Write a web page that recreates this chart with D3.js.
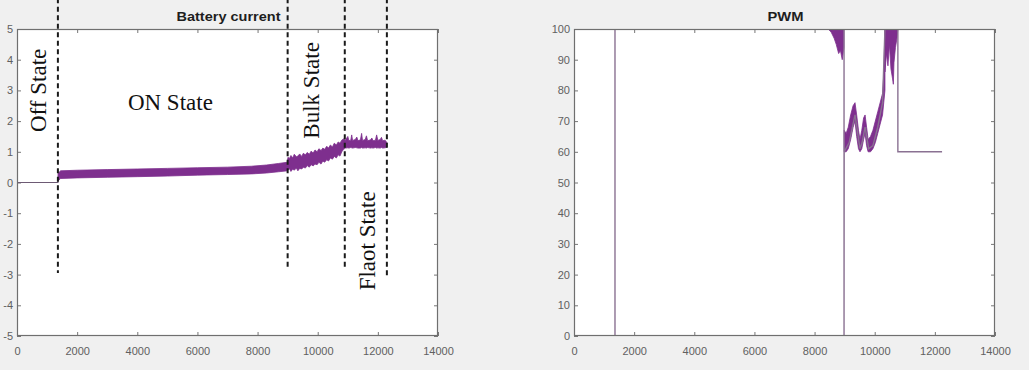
<!DOCTYPE html>
<html>
<head>
<meta charset="utf-8">
<script src="https://cdn.jsdelivr.net/npm/d3@7"></script>
<style>
  html, body { margin: 0; padding: 0; background: #f0f0f0; }
  svg { display: block; }
  .tick text { font-family: "Liberation Sans", Arial, sans-serif; font-size: 11px; fill: #606060; }
</style>
</head>
<body>
<svg id="chart" width="1029" height="370"></svg>
<script>
// ---------- Data ----------
const xTicks = [0, 2000, 4000, 6000, 8000, 10000, 12000, 14000];
const currentTicks = [-5, -4, -3, -2, -1, 0, 1, 2, 3, 4, 5];
const pwmTicks = [0, 10, 20, 30, 40, 50, 60, 70, 80, 90, 100];

// Battery current: off segment
const currentOffT = [0, 1362, 1365];
const currentOffV = [0, 0, 0.18];
// Battery current: noisy band (lower / upper envelope)
const currentT  = [1365, 1450, 2000, 3000, 4000, 5000, 6000, 7000, 7800, 8300, 8700, 8990,
                   9010, 9060, 9110, 9170, 9220, 9290, 9340, 9400, 9470, 9520, 9590, 9650, 9720, 9780, 9850, 9910,
                   9980, 10040, 10110, 10170, 10230, 10300, 10360, 10420, 10490, 10550, 10620, 10680, 10740, 10800, 10860,
                   10920, 11000, 11040, 11100, 11130, 11160, 11250, 11300, 11340, 11420, 11460, 11490, 11580, 11620,
                   11660, 11760, 11800, 11840, 11920, 11960, 12000, 12080, 12120, 12160, 12240, 12300];
const currentLo = [0.05, 0.13, 0.15, 0.17, 0.19, 0.21, 0.24, 0.26, 0.28, 0.31, 0.35, 0.38,
                   0.40, 0.45, 0.36, 0.44, 0.40, 0.47, 0.38, 0.46, 0.44, 0.50, 0.47, 0.55, 0.50, 0.58, 0.54, 0.60,
                   0.58, 0.66, 0.60, 0.70, 0.66, 0.74, 0.70, 0.80, 0.76, 0.85, 0.80, 0.90, 0.86, 1.00, 1.08,
                   1.12, 1.13, 1.12, 1.14, 1.13, 1.12, 1.14, 1.13, 1.12, 1.12, 1.14, 1.12, 1.13, 1.12,
                   1.14, 1.12, 1.13, 1.12, 1.14, 1.12, 1.13, 1.12, 1.14, 1.12, 1.13, 1.15];
const currentHi = [0.30, 0.38, 0.40, 0.42, 0.44, 0.46, 0.48, 0.50, 0.53, 0.57, 0.62, 0.66,
                   0.82, 0.78, 0.88, 0.80, 0.92, 0.84, 0.86, 0.93, 0.85, 0.95, 0.90, 0.98, 0.92, 1.02, 0.96, 1.06,
                   1.00, 1.10, 1.04, 1.12, 1.08, 1.18, 1.12, 1.22, 1.16, 1.28, 1.22, 1.32, 1.28, 1.38, 1.42,
                   1.38, 1.50, 1.36, 1.38, 1.55, 1.37, 1.40, 1.48, 1.36, 1.39, 1.60, 1.37, 1.40, 1.52,
                   1.36, 1.39, 1.45, 1.36, 1.38, 1.55, 1.37, 1.40, 1.47, 1.36, 1.38, 1.30];

// State boundaries (dashed lines) and labels
const stateLineX   = [1360, 9000, 10900, 12300];
const stateLineTop = [6.0, 6.0, 6.0, 6.0];
const stateLineBot = [-2.95, -2.85, -2.85, -3.05];
const stateLabels  = ["Off State", "ON State", "Bulk State", "Flaot State"];
const stateLabelX  = [700, 5100, 9800, 11650];
const stateLabelY  = [3.0, 2.6, 3.0, -1.9];
const stateLabelRot = [-90, 0, -90, -90];

// PWM main trace
const pwmT = [0, 1363, 1363, 8980, 8980, 8985, 9150, 9345, 9510, 9580, 9680, 9800, 9940, 10100, 10260, 10340, 10770, 10770, 12240];
const pwmV = [0, 0, 100, 100, 0, 60, 63, 72, 61, 63, 68, 61, 62, 68, 76, 100, 100, 60, 60];
// PWM noisy envelopes
const pwmBand1T  = [8450, 8550, 8650, 8720, 8800, 8860, 8920, 8975];
const pwmBand1Lo = [100, 99, 97, 95, 92, 93, 90, 94];
const pwmBand1Hi = [100, 100, 100, 100, 100, 100, 100, 100];
const pwmBand2T  = [8985, 9050, 9120, 9200, 9280, 9345, 9400, 9460, 9510, 9570, 9630, 9680, 9730, 9780, 9860, 9940, 10020, 10100, 10180, 10260, 10300, 10340];
const pwmBand2Lo = [60, 60, 61, 64, 68, 70, 65, 61, 60, 61, 64, 66, 62, 60, 60, 61, 63, 66, 69, 72, 76, 80];
const pwmBand2Hi = [67, 66, 68, 72, 75, 76, 72, 67, 64, 67, 71, 72, 68, 64, 65, 67, 70, 73, 76, 79, 85, 100];
const pwmBand3T  = [10340, 10390, 10440, 10490, 10540, 10590, 10620, 10640, 10690, 10740, 10770];
const pwmBand3Lo = [86, 92, 88, 95, 87, 84, 82, 89, 94, 97, 100];
const pwmBand3Hi = [100, 100, 100, 100, 100, 100, 100, 100, 100, 100, 100];

// ---------- Drawing ----------
const PURPLE = "#7E2F8E";
const svg = d3.select("#chart");
const fmt = d => String(d);

function makePanel(opts) {
  const { left, right, top, bottom, yDomain, yTicks, title, titleLen, id } = opts;
  const x = d3.scaleLinear().domain([0, 14000]).range([left, right]);
  const y = d3.scaleLinear().domain(yDomain).range([bottom, top]);
  const g = svg.append("g");

  g.append("rect").attr("x", left).attr("y", top)
    .attr("width", right - left).attr("height", bottom - top).attr("fill", "#fff");

  svg.append("clipPath").attr("id", id).append("rect")
    .attr("x", left).attr("y", top).attr("width", right - left).attr("height", bottom - top);

  const axes = [
    { a: d3.axisBottom(x).tickValues(xTicks).tickSize(-4).tickPadding(11).tickFormat(fmt), t: `translate(0,${bottom})` },
    { a: d3.axisTop(x).tickValues(xTicks).tickSize(-4).tickFormat(""), t: `translate(0,${top})` },
    { a: d3.axisLeft(y).tickValues(yTicks).tickSize(-4).tickPadding(4).tickFormat(fmt), t: `translate(${left},0)` },
    { a: d3.axisRight(y).tickValues(yTicks).tickSize(-4).tickFormat(""), t: `translate(${right},0)` }
  ];
  axes.forEach(ax => {
    const ag = g.append("g").attr("transform", ax.t).call(ax.a);
    ag.select(".domain").remove();
    ag.selectAll(".tick line").attr("stroke", "#777");
  });

  const plot = g.append("g").attr("clip-path", `url(#${id})`);

  g.append("rect").attr("x", left + 0.5).attr("y", top + 0.5)
    .attr("width", right - left - 1).attr("height", bottom - top - 1)
    .attr("fill", "none").attr("stroke", "#6f6f6f").attr("stroke-width", 1.2);

  g.append("text").attr("x", (left + right) / 2 + 1).attr("y", 21)
    .attr("text-anchor", "middle")
    .attr("font-family", "Liberation Sans, Arial, sans-serif")
    .attr("font-weight", "bold").attr("font-size", 12.5).attr("fill", "#1e1e1e")
    .attr("textLength", titleLen).attr("lengthAdjust", "spacingAndGlyphs")
    .text(title);

  return { x, y, g, plot };
}

// Left panel: Battery current
const L = makePanel({ left: 17, right: 438, top: 29, bottom: 336, yDomain: [-5, 5], yTicks: currentTicks,
                      title: "Battery current", titleLen: 104, id: "clipL" });

L.plot.append("path")
  .datum(currentOffT.map((t, i) => [t, currentOffV[i]]))
  .attr("fill", "none").attr("stroke", "#6d5a74").attr("stroke-width", 1.1)
  .attr("d", d3.line().x(d => L.x(d[0])).y(d => L.y(d[1])));

L.plot.append("path")
  .datum(currentT.map((t, i) => ({ t, lo: currentLo[i], hi: currentHi[i] })))
  .attr("fill", PURPLE).attr("stroke", PURPLE).attr("stroke-width", 0.8)
  .attr("d", d3.area().x(d => L.x(d.t)).y0(d => L.y(d.lo)).y1(d => L.y(d.hi)));

// dashed state boundaries (extend above the axes)
stateLineX.forEach((t, i) => {
  L.g.append("line")
    .attr("x1", L.x(t)).attr("x2", L.x(t))
    .attr("y1", L.y(stateLineTop[i])).attr("y2", L.y(stateLineBot[i]))
    .attr("stroke", "#1a1a1a").attr("stroke-width", 2)
    .attr("stroke-dasharray", "5,3.5");
});

// state labels
stateLabels.forEach((s, i) => {
  const px = L.x(stateLabelX[i]), py = L.y(stateLabelY[i]);
  L.g.append("text")
    .attr("transform", `translate(${px},${py}) rotate(${stateLabelRot[i]})`)
    .attr("text-anchor", "middle").attr("dominant-baseline", "central")
    .attr("font-family", "Liberation Serif, Times New Roman, serif")
    .attr("font-size", 23).attr("fill", "#111")
    .text(s);
});

// Right panel: PWM
const R = makePanel({ left: 574, right: 995, top: 29, bottom: 336, yDomain: [0, 100], yTicks: pwmTicks,
                      title: "PWM", titleLen: 36, id: "clipR" });

const areaR = d3.area().x(d => R.x(d.t)).y0(d => R.y(d.lo)).y1(d => R.y(d.hi));
[[pwmBand1T, pwmBand1Lo, pwmBand1Hi], [pwmBand2T, pwmBand2Lo, pwmBand2Hi], [pwmBand3T, pwmBand3Lo, pwmBand3Hi]]
  .forEach(([T, Lo, Hi]) => {
    R.plot.append("path")
      .datum(T.map((t, i) => ({ t, lo: Lo[i], hi: Hi[i] })))
      .attr("fill", PURPLE).attr("stroke", PURPLE).attr("stroke-width", 0.8)
      .attr("d", areaR);
  });

R.plot.append("path")
  .datum(pwmT.map((t, i) => [t, pwmV[i]]))
  .attr("fill", "none").attr("stroke", "#8a7192").attr("stroke-width", 1.4)
  .attr("d", d3.line().x(d => R.x(d[0])).y(d => R.y(d[1])));
</script>
</body>
</html>
